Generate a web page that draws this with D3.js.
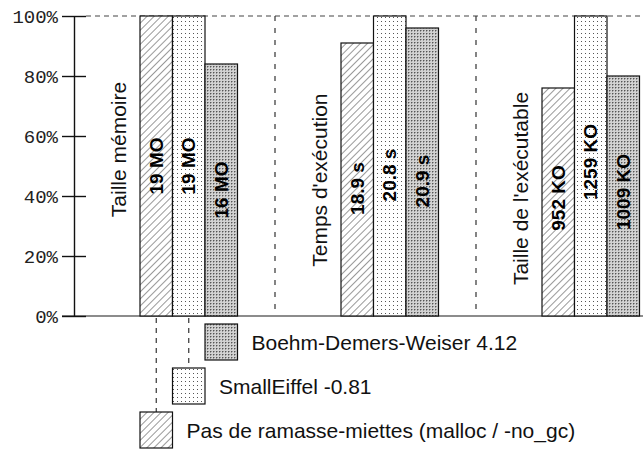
<!DOCTYPE html>
<html>
<head>
<meta charset="utf-8">
<script src="https://cdn.jsdelivr.net/npm/d3@7"></script>
<style>
  html, body { margin: 0; padding: 0; background: #fff; }
  svg { display: block; }
</style>
</head>
<body>
<svg id="chart" width="643" height="449"></svg>
<script>
// Benchmark categories and compared garbage-collection setups
const categories = ["Taille mémoire", "Temps d'exécution", "Taille de l'exécutable"];
const seriesNames = ["Pas de ramasse-miettes (malloc / -no_gc)", "SmallEiffel -0.81", "Boehm-Demers-Weiser 4.12"];

// Relative values (% of the largest measure in each category)
const noGcPercent = [100, 91, 76];
const smallEiffelPercent = [100, 100, 100];
const boehmPercent = [84, 96, 80];

// Absolute measures printed on the bars
const noGcLabels = ["19 MO", "18.9 s", "952 KO"];
const smallEiffelLabels = ["19 MO", "20.8 s", "1259 KO"];
const boehmLabels = ["16 MO", "20.9 s", "1009 KO"];

const yTicks = [0, 20, 40, 60, 80, 100];

const seriesValues = [noGcPercent, smallEiffelPercent, boehmPercent];
const seriesLabels = [noGcLabels, smallEiffelLabels, boehmLabels];
const seriesFill = ["url(#hatch)", "url(#dots)", "url(#grey)"];

const svg = d3.select("#chart");
const W = 643;
const axisX = 74, baseY = 316, topY = 16;

// Patterns for the bar fills
const defs = svg.append("defs");
const hatch = defs.append("pattern").attr("id", "hatch")
  .attr("patternUnits", "userSpaceOnUse").attr("width", 5).attr("height", 5)
  .attr("patternTransform", "rotate(45)");
hatch.append("rect").attr("width", 5).attr("height", 5).attr("fill", "#fff");
hatch.append("line").attr("x1", 0).attr("y1", 0).attr("x2", 0).attr("y2", 5)
  .attr("stroke", "#333").attr("stroke-width", 1);

const dots = defs.append("pattern").attr("id", "dots")
  .attr("patternUnits", "userSpaceOnUse").attr("width", 4).attr("height", 4);
dots.append("rect").attr("width", 4).attr("height", 4).attr("fill", "#fff");
dots.append("rect").attr("x", 1).attr("y", 1).attr("width", 1).attr("height", 1).attr("fill", "#555");

const grey = defs.append("pattern").attr("id", "grey")
  .attr("patternUnits", "userSpaceOnUse").attr("width", 3).attr("height", 3);
grey.append("rect").attr("width", 3).attr("height", 3).attr("fill", "#d2d2d2");
grey.append("rect").attr("x", 0).attr("y", 0).attr("width", 1).attr("height", 1).attr("fill", "#555");
grey.append("rect").attr("x", 1).attr("y", 0).attr("width", 1).attr("height", 1).attr("fill", "#9a9a9a");
grey.append("rect").attr("x", 0).attr("y", 1).attr("width", 1).attr("height", 1).attr("fill", "#9a9a9a");

// Scales
const y = d3.scaleLinear().domain([0, 100]).range([baseY, topY]);
const xGroup = d3.scaleBand().domain(categories).range([axisX, axisX + 3 * 201]);
const barOffset = 66;
const xBar = d3.scaleBand().domain(d3.range(seriesNames.length)).range([0, 97.5]);

// Top 100% dashed line
svg.append("line")
  .attr("x1", axisX + 12).attr("x2", W).attr("y1", y(100)).attr("y2", y(100))
  .attr("stroke", "#444").attr("stroke-width", 1.2).attr("stroke-dasharray", "5,4");

// Dashed separators between categories
categories.slice(1).forEach(c => {
  svg.append("line")
    .attr("x1", xGroup(c)).attr("x2", xGroup(c))
    .attr("y1", y(100)).attr("y2", baseY)
    .attr("stroke", "#333").attr("stroke-width", 1.2).attr("stroke-dasharray", "5,7");
});

// Baseline
svg.append("line")
  .attr("x1", axisX - 12).attr("x2", W).attr("y1", baseY).attr("y2", baseY)
  .attr("stroke", "#666").attr("stroke-width", 1.6);

// Y axis with ticks crossing the axis line
const yAxis = svg.append("g").attr("transform", `translate(${axisX},0)`)
  .call(d3.axisLeft(y).tickValues(yTicks).tickFormat(d => d + "%")
    .tickSize(12).tickPadding(4).tickSizeOuter(0));
yAxis.select(".domain").attr("stroke", "#111").attr("stroke-width", 1.4);
yAxis.selectAll(".tick line").attr("x1", 12).attr("stroke", "#111").attr("stroke-width", 1.4);
yAxis.selectAll(".tick text")
  .attr("font-family", "'Liberation Mono', monospace").attr("font-size", 19)
  .attr("fill", "#222");

// Category titles (rotated), shifted per category
const titleMid = [55.5, 45.3, 42.5];
categories.forEach((c, i) => {
  const tx = xGroup(c) + barOffset - 14;
  const ty = y(titleMid[i]);
  svg.append("text")
    .attr("transform", `translate(${tx},${ty}) rotate(-90)`)
    .attr("text-anchor", "middle")
    .attr("font-family", "'Liberation Sans', Arial, sans-serif")
    .attr("font-size", 21).attr("fill", "#111")
    .text(c);
});

// Bars and their value labels
const labelNudge = [0, 9, -4];
seriesValues.forEach((vals, s) => {
  categories.forEach((c, i) => {
    const bx = xGroup(c) + barOffset + xBar(s);
    const bw = xBar.bandwidth();
    svg.append("rect")
      .attr("x", bx).attr("y", y(vals[i]))
      .attr("width", bw).attr("height", baseY - y(vals[i]))
      .attr("fill", seriesFill[s]).attr("stroke", "#111").attr("stroke-width", 1.2);
    const ly = (y(vals[i]) + baseY) / 2 + labelNudge[i];
    svg.append("text")
      .attr("transform", `translate(${bx + bw / 2},${ly}) rotate(-90)`)
      .attr("text-anchor", "middle").attr("dominant-baseline", "central")
      .attr("font-family", "'Liberation Sans', Arial, sans-serif")
      .attr("font-size", 19).attr("font-weight", "bold").attr("fill", "#000")
      .text(seriesLabels[s][i]);
  });
});

// Staircase legend under the first category's bars
const boxH = 36, legendTop = 324, legendStep = 44;
const firstCat = categories[0];
seriesNames.forEach((name, s) => {
  const row = seriesNames.length - 1 - s;
  const bx = xGroup(firstCat) + barOffset + xBar(s);
  const bw = xBar.bandwidth();
  const by = legendTop + row * legendStep;
  if (by > legendTop) {
    svg.append("line")
      .attr("x1", bx + bw / 2).attr("x2", bx + bw / 2)
      .attr("y1", baseY + 2).attr("y2", by)
      .attr("stroke", "#333").attr("stroke-width", 1.2).attr("stroke-dasharray", "5,5");
  }
  svg.append("rect")
    .attr("x", bx).attr("y", by).attr("width", bw).attr("height", boxH)
    .attr("fill", seriesFill[s]).attr("stroke", "#111").attr("stroke-width", 1.2);
  svg.append("text")
    .attr("x", bx + bw + 14).attr("y", by + boxH / 2)
    .attr("dominant-baseline", "central")
    .attr("font-family", "'Liberation Sans', Arial, sans-serif")
    .attr("font-size", 21).attr("fill", "#111")
    .text(name);
});
</script>
</body>
</html>
